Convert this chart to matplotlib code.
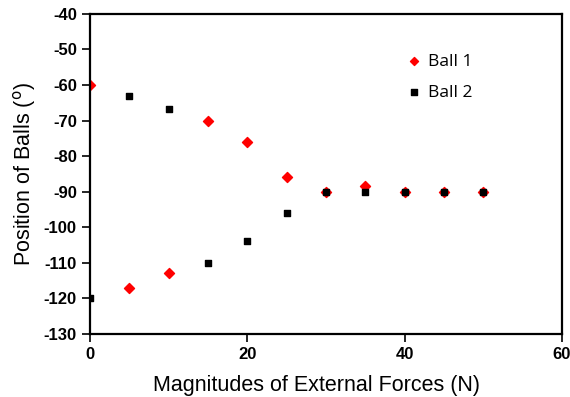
import matplotlib
matplotlib.use("Agg")
import matplotlib.pyplot as plt

# forces (N) and positions (deg)
force = [0, 5, 10, 15, 20, 25, 30, 35, 40, 45, 50]
ball1 = [-60, -117, -113, -70, -76, -86, -90, -88.5, -90, -90, -90]
ball2 = [-120, -63, -66.7, -110, -104, -96, -90, -90, -90, -90, -90]

plt.rcParams['font.family'] = ['Liberation Sans', 'DejaVu Sans']
plt.rcParams['axes.unicode_minus'] = False

fig = plt.figure(figsize=(5.7, 3.97), dpi=100)
ax = fig.add_axes([0.158, 0.159, 0.828, 0.806])

ax.scatter(force, ball2, marker='s', s=22, color='black', zorder=3, label='Ball 2')
ax.scatter(force, ball1, marker='D', s=26, color='red', zorder=2, label='Ball 1')

ax.set_xlim(0, 60)
ax.set_ylim(-130, -40)
ax.set_xticks([0, 20, 40, 60])
ax.set_yticks(range(-130, -39, 10))

for s in ax.spines.values():
    s.set_linewidth(1.6)
ax.tick_params(direction='out', length=6, width=1.2, labelsize=12, pad=3.5)
for lab in ax.get_xticklabels() + ax.get_yticklabels():
    lab.set_fontweight('bold')

ax.set_xlabel('Magnitudes of External Forces (N)', fontsize=15.5, labelpad=9)
ax.xaxis.label.set_x(0.48)
ax.set_ylabel(r'Position of Balls ($^{\rm o}$)', fontsize=15.5, labelpad=4)

h, l = ax.get_legend_handles_labels()
ax.legend(h[::-1], l[::-1], loc='upper left', bbox_to_anchor=(0.635, 0.925),
          frameon=False, handletextpad=0.3, handlelength=1.0, labelspacing=0.85,
          markerscale=0.8, prop={'family': 'Open Sans', 'size': 12.5})

fig.savefig('out.png', dpi=100)
